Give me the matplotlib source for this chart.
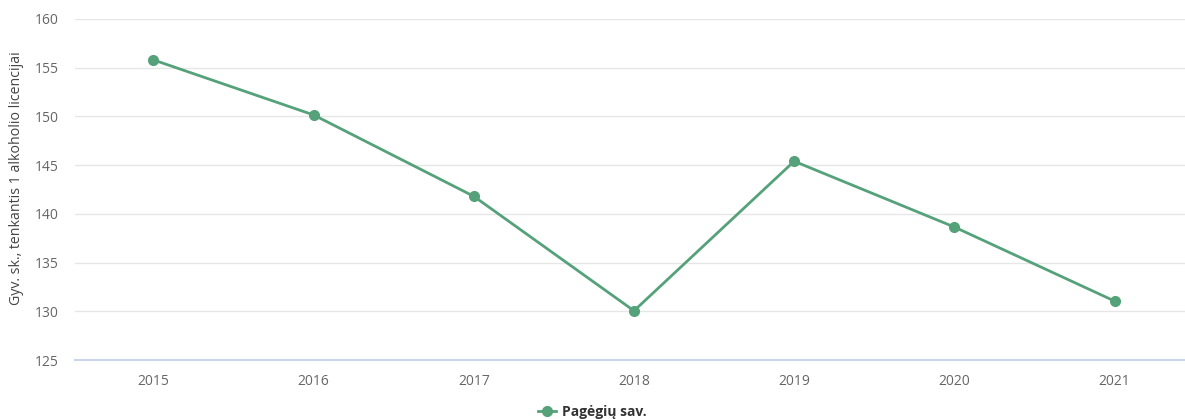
import matplotlib
matplotlib.use("Agg")
import matplotlib.pyplot as plt

plt.rcParams["font.family"] = ["Open Sans", "DejaVu Sans"]

years = ["2015", "2016", "2017", "2018", "2019", "2020", "2021"]
values = [155.8, 150.15, 141.8, 130.05, 145.4, 138.65, 131.05]
series_name = "Pagėgių sav."
ylabel = "Gyv. sk., tenkantis 1 alkoholio licencijai"

color = "#55a27a"

fig = plt.figure(figsize=(11.85, 4.19), dpi=100)
ax = fig.add_axes([75 / 1185, 1 - 360 / 419, 1 - 75 / 1185, (360 - 19) / 419])

x = list(range(len(years)))
ax.plot(x, values, color=color, lw=2, marker="o", ms=7, label=series_name)

ax.set_ylim(125, 160)
ax.set_yticks(range(125, 161, 5))
ax.set_xlim(-0.49, 6.44)
ax.set_xticks(x)
ax.set_xticklabels(years)

ax.grid(axis="y", color="#e6e6e6", lw=1)
ax.set_axisbelow(True)
for s in ["top", "right", "left"]:
    ax.spines[s].set_visible(False)
ax.spines["bottom"].set_color("#ccd6eb")
ax.spines["bottom"].set_linewidth(1.5)
ax.tick_params(axis="both", length=0, colors="#666666", labelsize=10)
ax.tick_params(axis="x", pad=10)
ax.tick_params(axis="y", pad=12)

ax.set_ylabel(ylabel, color="#444444", fontsize=10.2)
ax.yaxis.set_label_coords(-0.046, 0.534)

leg = fig.legend(loc="lower center", bbox_to_anchor=(0.5, -0.03), frameon=False,
                 prop={"weight": "bold", "size": 10}, handlelength=1.3,
                 handletextpad=0.4)
for t in leg.get_texts():
    t.set_color("#333333")

fig.savefig("out.png", dpi=100)
